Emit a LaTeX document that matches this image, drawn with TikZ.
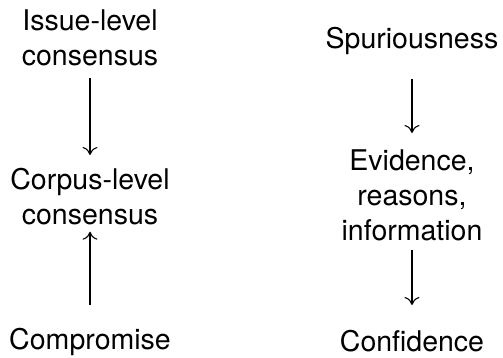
\documentclass[tikz,border=0pt]{standalone}
\usepackage{fontspec}
\setmainfont{TeX Gyre Heros}
\usetikzlibrary{arrows.meta}
\begin{document}
\begin{tikzpicture}[x=1pt,y=-1pt,
  lbl/.style={inner sep=0pt, anchor=north, align=center, font=\fontsize{28.5}{35}\selectfont},
  arr/.style={line width=1.1pt, -{To[length=8pt,width=15pt]}}]
\useasboundingbox[fill=white] (0,0) rectangle (503,357);
\node[lbl] (A) at (90,9.6) {Issue-level\\consensus};
\node[lbl] (B) at (90,167.6) {Corpus-level\\consensus};
\node[lbl] (C) at (90,327.6) {Compromise};
\node[lbl] (D) at (412,26.6) {Spuriousness};
\node[lbl] (E) at (412,149.6) {Evidence,\\reasons,\\information};
\node[lbl] (F) at (412,329.6) {Confidence};
\draw[arr, shorten <=12pt, shorten >=12.6pt] (A.south) -- (B.north);
\draw[arr, shorten <=22.6pt, shorten >=7pt] (C.north) -- (B.south);
\draw[arr, shorten <=24pt, shorten >=16.6pt] (D.south) -- (E.north);
\draw[arr, shorten <=9pt, shorten >=24.6pt] (E.south) -- (F.north);
\end{tikzpicture}
\end{document}
